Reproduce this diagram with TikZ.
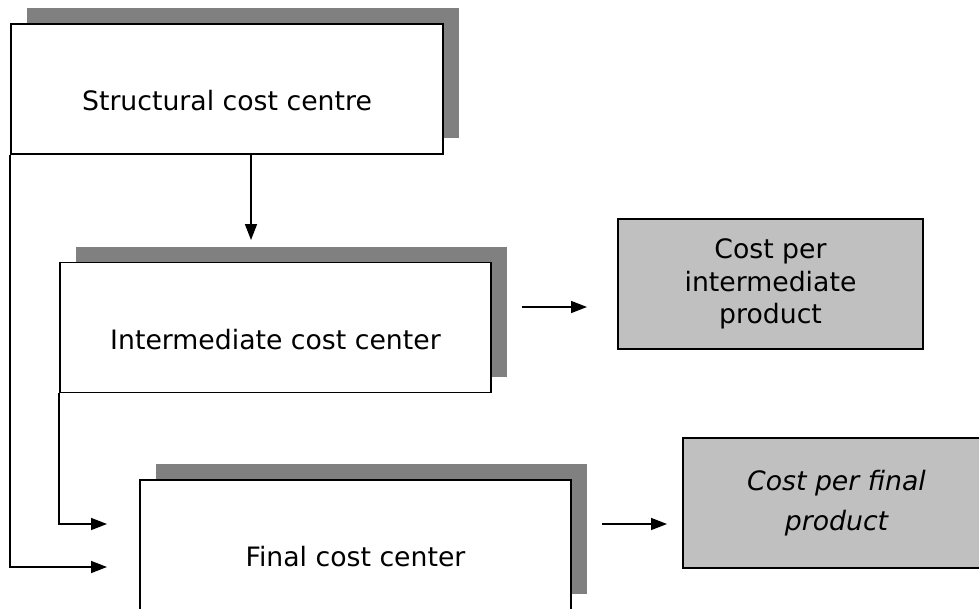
\documentclass[tikz,border=0pt]{standalone}
\usepackage{fontspec}
\setmainfont{DejaVu Sans}
\usetikzlibrary{arrows.meta,shadows}
\definecolor{shadowgray}{HTML}{808080}
\definecolor{boxgray}{HTML}{C0C0C0}
\begin{document}
\begin{tikzpicture}[x=1pt,y=-1pt,
  shadowed/.style={drop shadow={shadow xshift=16pt,shadow yshift=16pt,opacity=1,fill=shadowgray}},
  box/.style={draw=black, line width=1.7pt, fill=white, shadowed,
    minimum width=431pt, minimum height=130pt, inner sep=0pt,
    text height=43pt, text depth=0pt, font=\fontsize{26.7}{32}\selectfont},
  gbox/.style={draw=black, line width=1.7pt, fill=boxgray,
    minimum width=305pt, minimum height=130pt, inner sep=0pt, align=center,
    font=\fontsize{26.7}{32.5}\selectfont},
  arr/.style={line width=1.6pt, -{Triangle[length=16pt,width=12pt]}}]
\useasboundingbox (0,0) rectangle (979,608);
\clip (0,0) rectangle (979,608);
\node[box, minimum width=432pt] (b1) at (227,89) {Structural cost centre};
\node[box] (b2) at (275.5,327.5) {Intermediate cost center};
\node[box] (b3) at (355.5,545) {Final cost center};
\node[gbox] (b4) at (770.5,284) {Cost per\\intermediate\\product};
\node[gbox, minimum width=307pt, font=\fontsize{26.7}{40}\selectfont\itshape] (b5) at (836.5,503) {Cost per final\\product};
\coordinate (a1e) at (251,240);
\coordinate (in1) at (107,524);
\coordinate (in2) at (107,567);
\coordinate (s3) at (522,307);
\coordinate (e3) at (587,307);
\coordinate (s4) at (602,524);
\coordinate (e4) at (667,524);
\draw[arr] (b1.south -| a1e) -- (a1e);
\draw[arr] (b2.south west) |- (in1);
\draw[arr] (b1.south west) |- (in2);
\draw[arr] (s3) -- (e3);
\draw[arr] (s4) -- (e4);
\end{tikzpicture}
\end{document}
